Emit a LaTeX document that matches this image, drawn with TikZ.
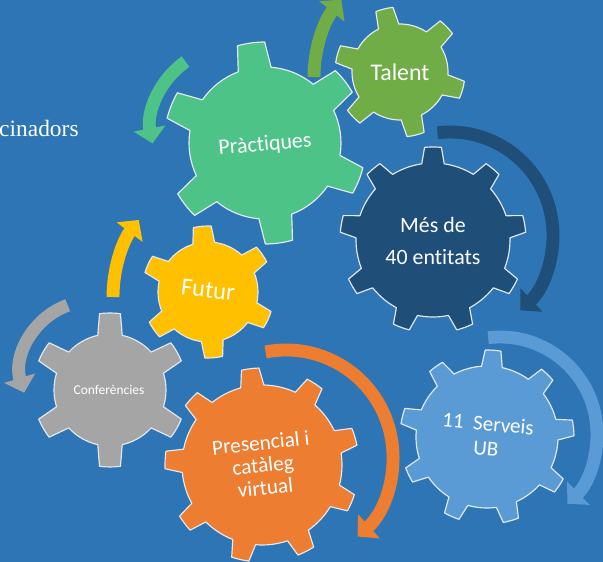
\documentclass[tikz,border=0pt]{standalone}
\usepackage{fontspec}
\setmainfont{Carlito}[Ligatures=NoCommon]
\newfontfamily\textserif{Liberation Serif}
\usetikzlibrary{arrows.meta}

\definecolor{bgblue}{RGB}{46,117,182}
\definecolor{gearline}{RGB}{228,232,236}
\definecolor{practgreen}{RGB}{78,195,136}
\definecolor{talentgreen}{RGB}{112,173,71}
\definecolor{entblue}{RGB}{31,78,121}
\definecolor{servblue}{RGB}{91,155,213}
\definecolor{presorange}{RGB}{237,125,49}
\definecolor{futyellow}{RGB}{255,192,0}
\definecolor{confgray}{RGB}{165,165,165}

\tikzset{
  gear/.style={draw=gearline,line width=1pt,line join=round},
  turn/.style={line width=11pt,-{Triangle[width=27pt,length=13pt]}},
  geartext/.style={text=white,align=center,inner sep=0pt},
}

% #1 colour, #2 centre, #3 teeth, #4 body radius, #5 tip radius, #6 angle of one tooth
\newcommand{\gearshape}[6]{%
  \pgfmathsetmacro\gp{360/#3}
  \begin{scope}[shift={(#2)},rotate=#6]
    \filldraw[gear,fill=#1] ({0.21*\gp}:#4)
      \foreach \k [evaluate=\k as \a using (\k-1)*\gp] in {1,...,#3}{
        arc[start angle={\a+0.21*\gp},end angle={\a+0.79*\gp},radius=#4]
        -- ({\a+0.87*\gp}:#5)
        arc[start angle={\a+0.87*\gp},end angle={\a+1.13*\gp},radius=#5]
        -- ({\a+1.21*\gp}:#4)
      } -- cycle;
  \end{scope}}

\begin{document}
\begin{tikzpicture}[x=0.03cm,y=0.03cm]
\fill[bgblue] (0,0) rectangle (603,562);
\useasboundingbox (0,0) rectangle (603,562);
\clip (0,0) rectangle (603,562);

% gear centres
\coordinate (gTalent) at (400,490);
\coordinate (gPract) at (265,419);
\coordinate (gEnt) at (433,322);
\coordinate (gServ) at (487,125);
\coordinate (gPres) at (262,97);
\coordinate (gConf) at (110,172);
\coordinate (gFutur) at (208,270);

% turning arrows
\draw[turn,practgreen] (232,434) ++(125:81) arc[start angle=125,end angle=191,radius=81];
\draw[turn,talentgreen] (437,485) ++(180:123) arc[start angle=180,end angle=141,radius=123];
\draw[turn,entblue] (450,327) ++(97:103) arc[start angle=97,end angle=-47,radius=103];
\draw[turn,servblue] (500,128) ++(97:97) arc[start angle=97,end angle=-46,radius=97];
\draw[turn,presorange] (286,105) ++(101:107) arc[start angle=101,end angle=-48,radius=107];
\draw[turn,futyellow] (241,265) ++(180:128) arc[start angle=180,end angle=143,radius=128];
\draw[turn,confgray] (92,190) ++(110:71) arc[start angle=110,end angle=197,radius=71];

% gears
\gearshape{talentgreen}{gTalent}{6}{48}{65}{104}
\gearshape{practgreen}{gPract}{6}{76}{101}{98}
\gearshape{entblue}{gEnt}{9}{77}{93}{90}
\gearshape{servblue}{gServ}{9}{71}{87}{86}
\gearshape{presorange}{gPres}{9}{80}{97}{97}
\gearshape{confgray}{gConf}{6}{56}{77}{90}
\gearshape{futyellow}{gFutur}{6}{50}{66}{95}

% texts
\node[anchor=base west,inner sep=0pt,text=white,font=\textserif\fontsize{20}{24}\selectfont] (padr) at (-1,425) {cinadors};
\node[geartext,font=\fontsize{20.4}{24}\selectfont] (talent) at (gTalent) {Talent};
\node[geartext,rotate=5,font=\fontsize{18.7}{22}\selectfont] (pract) at (265,417) {Pràctiques};
\node[geartext,font=\fontsize{18.7}{28}\selectfont] (ent) at (433,321) {Més de\\40 entitats};
\node[geartext,rotate=-5,font=\fontsize{18}{21}\selectfont] (serv) at (487,126) {11\ \ Serveis\\UB};
\node[geartext,rotate=6,font=\fontsize{18.2}{19.2}\selectfont] (pres) at (263,97) {Presencial i\\catàleg\\virtual};
\node[geartext,rotate=-7,font=\fontsize{21}{24}\selectfont] (futur) at (208,272) {Futur};
\node[geartext,font=\fontsize{11.5}{14}\selectfont] (conf) at (109,172) {Conferències};
\end{tikzpicture}
\end{document}
